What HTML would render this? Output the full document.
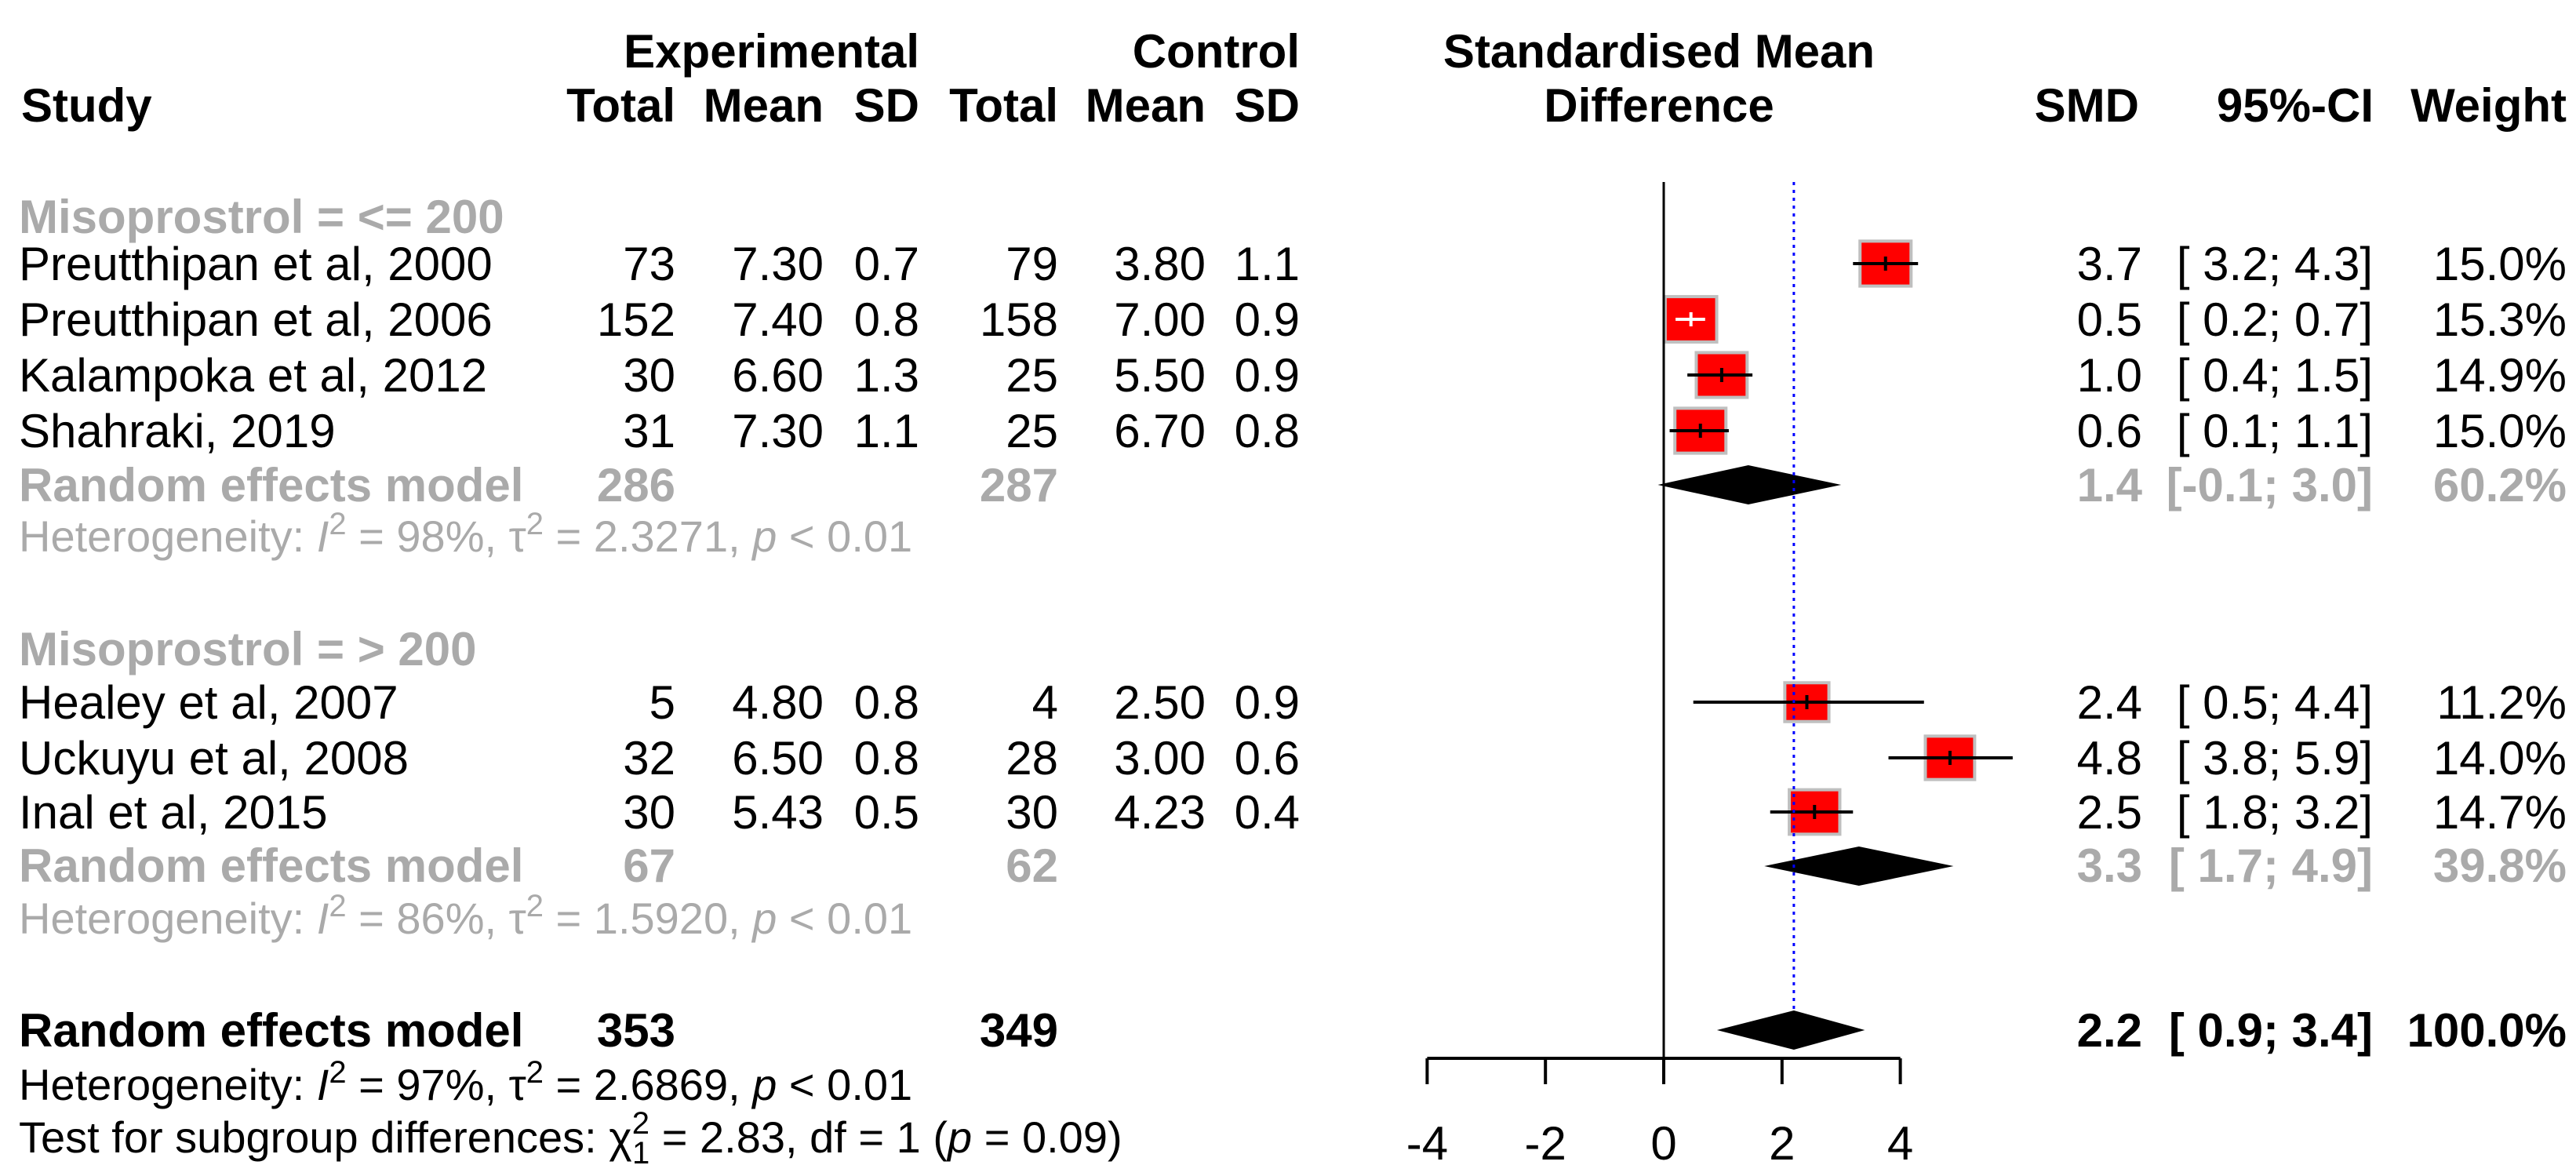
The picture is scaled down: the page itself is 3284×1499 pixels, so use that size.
<!DOCTYPE html>
<html><head><meta charset="utf-8"><style>
html,body{margin:0;padding:0;background:#fff;}
svg{display:block;font-family:"Liberation Sans",Arial,sans-serif;}
.b{font-weight:bold;}
.g{fill:#aaaaaa;}
.t{font-size:60px;}
.h{font-size:56px;}
</style></head><body>
<svg id="plot" width="3284" height="1499" viewBox="0 0 3284 1499">
<g class="t b">
<text x="1172" y="86" text-anchor="end">Experimental</text>
<text x="1657" y="86" text-anchor="end">Control</text>
<text x="2115" y="86" text-anchor="middle">Standardised Mean</text>
<text x="27" y="155">Study</text>
<text x="861" y="155" text-anchor="end">Total</text>
<text x="1050" y="155" text-anchor="end">Mean</text>
<text x="1172" y="155" text-anchor="end">SD</text>
<text x="1349" y="155" text-anchor="end">Total</text>
<text x="1537" y="155" text-anchor="end">Mean</text>
<text x="1657" y="155" text-anchor="end">SD</text>
<text x="2115" y="155" text-anchor="middle">Difference</text>
<text x="2727" y="155" text-anchor="end">SMD</text>
<text x="3026" y="155" text-anchor="end">95%-CI</text>
<text x="3272" y="155" text-anchor="end">Weight</text>
</g>
<g class="t b g">
<text x="24" y="297">Misoprostrol = &lt;= 200</text>
<text x="24" y="848">Misoprostrol = &gt; 200</text>
</g>
<g id="tablerows" class="t"></g>
<g class="t b g">
<text x="24" y="639">Random effects model</text>
<text x="861" y="639" text-anchor="end">286</text>
<text x="1349" y="639" text-anchor="end">287</text>
<text x="2731" y="639" text-anchor="end">1.4</text>
<text x="3025" y="639" text-anchor="end">[-0.1; 3.0]</text>
<text x="3272" y="639" text-anchor="end">60.2%</text>
<text x="24" y="1124">Random effects model</text>
<text x="861" y="1124" text-anchor="end">67</text>
<text x="1349" y="1124" text-anchor="end">62</text>
<text x="2731" y="1124" text-anchor="end">3.3</text>
<text x="3025" y="1124" text-anchor="end">[ 1.7; 4.9]</text>
<text x="3272" y="1124" text-anchor="end">39.8%</text>
</g>
<g class="t b">
<text x="24" y="1334">Random effects model</text>
<text x="861" y="1334" text-anchor="end">353</text>
<text x="1349" y="1334" text-anchor="end">349</text>
<text x="2731" y="1334" text-anchor="end">2.2</text>
<text x="3025" y="1334" text-anchor="end">[ 0.9; 3.4]</text>
<text x="3272" y="1334" text-anchor="end">100.0%</text>
</g>
<g class="h">
<text x="24" y="703" class="g">Heterogeneity: <tspan font-style="italic">I</tspan><tspan dy="-22" font-size="40">2</tspan><tspan dy="22"> = 98%, τ</tspan><tspan dy="-22" font-size="40">2</tspan><tspan dy="22"> = 2.3271, </tspan><tspan font-style="italic">p</tspan> &lt; 0.01</text>
<text x="24" y="1190" class="g">Heterogeneity: <tspan font-style="italic">I</tspan><tspan dy="-22" font-size="40">2</tspan><tspan dy="22"> = 86%, τ</tspan><tspan dy="-22" font-size="40">2</tspan><tspan dy="22"> = 1.5920, </tspan><tspan font-style="italic">p</tspan> &lt; 0.01</text>
<text x="24" y="1402">Heterogeneity: <tspan font-style="italic">I</tspan><tspan dy="-22" font-size="40">2</tspan><tspan dy="22"> = 97%, τ</tspan><tspan dy="-22" font-size="40">2</tspan><tspan dy="22"> = 2.6869, </tspan><tspan font-style="italic">p</tspan> &lt; 0.01</text>
<text x="24" y="1469">Test for subgroup differences: χ<tspan dy="-24" font-size="40">2</tspan><tspan dy="38" dx="-22" font-size="40">1</tspan><tspan dy="-14"> = 2.83, df = 1 (</tspan><tspan font-style="italic">p</tspan> = 0.09)</text>
</g>
<g id="marks"></g>
<g id="axis"></g>
</svg>
<script>
const studies = ["Preutthipan et al, 2000","Preutthipan et al, 2006","Kalampoka et al, 2012","Shahraki, 2019","Healey et al, 2007","Uckuyu et al, 2008","Inal et al, 2015"];
const expTotal = [73,152,30,31,5,32,30];
const expMean = ["7.30","7.40","6.60","7.30","4.80","6.50","5.43"];
const expSD = ["0.7","0.8","1.3","1.1","0.8","0.8","0.5"];
const ctrlTotal = [79,158,25,25,4,28,30];
const ctrlMean = ["3.80","7.00","5.50","6.70","2.50","3.00","4.23"];
const ctrlSD = ["1.1","0.9","0.9","0.8","0.9","0.6","0.4"];
const smd = [3.75,0.46,0.98,0.62,2.42,4.84,2.55];
const ciLo = [3.2,0.2,0.4,0.1,0.5,3.8,1.8];
const ciHi = [4.3,0.7,1.5,1.1,4.4,5.9,3.2];
const weight = [15.0,15.3,14.9,15.0,11.2,14.0,14.7];
const smdLabels = ["3.7","0.5","1.0","0.6","2.4","4.8","2.5"];
const ciLabels = ["[ 3.2; 4.3]","[ 0.2; 0.7]","[ 0.4; 1.5]","[ 0.1; 1.1]","[ 0.5; 4.4]","[ 3.8; 5.9]","[ 1.8; 3.2]"];
const weightLabels = ["15.0%","15.3%","14.9%","15.0%","11.2%","14.0%","14.7%"];
const summaryNames = ["subgroup1","subgroup2","overall"];
const summaryEst = [1.43,3.3,2.2];
const summaryLo = [-0.1,1.7,0.9];
const summaryHi = [3.0,4.9,3.4];
const overallEst = 2.2;
const tickValues = [-4,-2,0,2,4];
const tickLabels = ["-4","-2","0","2","4"];

const NS = "http://www.w3.org/2000/svg";
const rowY = [336,407,478,549,895,966,1035];
const sumY = [618,1104,1313];
const X0 = 2121, UNIT = 75.4;
function xs(v){ return X0 + v*UNIT; }
function mk(tag, attrs, parent){ const e=document.createElementNS(NS,tag); for(const k in attrs) e.setAttribute(k,attrs[k]); parent.appendChild(e); return e; }
const rows = document.getElementById('tablerows');
const marks = document.getElementById('marks');
const axis = document.getElementById('axis');

studies.forEach((s,i)=>{
  const y = rowY[i]+21;
  const cols = [[24,s,'start'],[861,expTotal[i],'end'],[1050,expMean[i],'end'],[1172,expSD[i],'end'],[1349,ctrlTotal[i],'end'],[1537,ctrlMean[i],'end'],[1657,ctrlSD[i],'end'],[2731,smdLabels[i],'end'],[3025,ciLabels[i],'end'],[3272,weightLabels[i],'end']];
  cols.forEach((c,j)=>{
    const t = mk('text',{x:c[0],y:y,'text-anchor':c[2]},rows);
    
    
    t.textContent = c[1];
  });
  const w = 16.8*Math.sqrt(weight[i]);
  const h = w*0.88;
  const box = mk('rect',{x:xs(smd[i])-w/2,y:rowY[i]-h/2,width:w,height:h,fill:'#ff0000',stroke:'#bfbfbf','stroke-width':4},marks);
  
  
  const inside = (xs(ciHi[i])-xs(ciLo[i])) < w;
  const col = inside ? '#ffffff' : '#000000';
  const ci = mk('line',{x1:xs(ciLo[i]),x2:xs(ciHi[i]),y1:rowY[i],y2:rowY[i],stroke:col,'stroke-width':4},marks);
  
  
  const tk = mk('line',{x1:xs(smd[i]),x2:xs(smd[i]),y1:rowY[i]-9,y2:rowY[i]+9,stroke:col,'stroke-width':4},marks);
  
  
});

summaryEst.forEach((e,i)=>{
  const y = sumY[i];
  const d = mk('polygon',{points:[xs(summaryLo[i])+','+y, xs(e)+','+(y-25), xs(summaryHi[i])+','+y, xs(e)+','+(y+25)].join(' '),fill:'#000'},marks);
  
  
});

const zl = mk('line',{x1:xs(0),x2:xs(0),y1:232,y2:1349,stroke:'#000','stroke-width':3},marks);


const ol = mk('line',{x1:xs(overallEst),x2:xs(overallEst),y1:232,y2:1290,stroke:'#0000ff','stroke-width':3,'stroke-dasharray':'4 6'},marks);



const al = mk('line',{x1:xs(tickValues[0]),x2:xs(tickValues[tickValues.length-1]),y1:1349,y2:1349,stroke:'#000','stroke-width':4},axis);


tickValues.forEach((v,i)=>{
  const t = mk('line',{x1:xs(v),x2:xs(v),y1:1349,y2:1382,stroke:'#000','stroke-width':4},axis);
  
  
  const l = mk('text',{x:xs(v),y:1478,'text-anchor':'middle','font-size':60},axis);
  
  
  l.textContent = tickLabels[i];
});
</script>
</body></html>
